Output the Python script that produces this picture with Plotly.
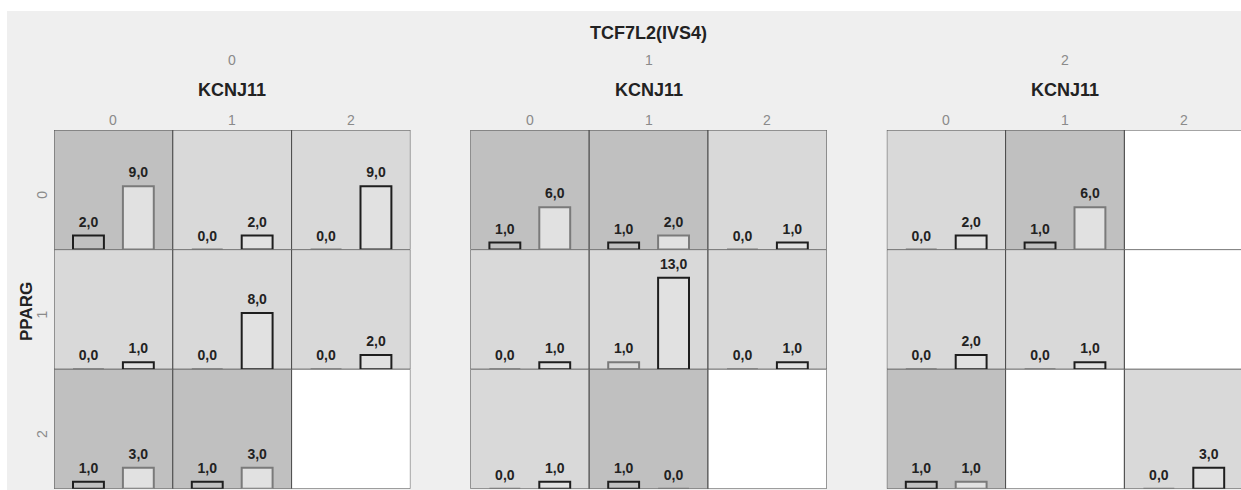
import plotly.graph_objects as go

# MDR-style interaction plot: TCF7L2(IVS4) x KCNJ11 x PPARG genotypes
tcf_levels = ["0", "1", "2"]      # panels
kcnj_levels = ["0", "1", "2"]     # columns inside each panel
pparg_levels = ["0", "1", "2"]    # rows

# counts per TCF7L2 level, rows = PPARG, cols = KCNJ11; None = no subjects
cases = [
    [[2, 0, 0], [0, 0, 0], [1, 1, None]],
    [[1, 1, 0], [0, 1, 0], [0, 1, None]],
    [[0, 1, None], [0, 0, None], [1, None, 0]],
]
controls = [
    [[9, 2, 9], [1, 8, 2], [3, 3, None]],
    [[6, 2, 1], [1, 13, 1], [1, 0, None]],
    [[2, 6, None], [2, 1, None], [1, None, 3]],
]

# overall case/control ratio decides high-risk (dark) vs low-risk (light) cells
tot_cases = sum(v for pan in cases for row in pan for v in row if v is not None)
tot_ctrl = sum(v for pan in controls for row in pan for v in row if v is not None)
threshold = tot_cases / tot_ctrl

W, H = 1241, 490
LEFT, TOP = 54, 130
CELL_W, CELL_H = 118.8, 119.6
PANEL_GAP = 60
UNIT_PX = 7.04
Y_MAX = CELL_H / UNIT_PX

BG = "#efefef"
DARK = "#c0c0c0"
LIGHT = "#d9d9d9"
EMPTY = "#ffffff"
BORDER = "#4a4a4a"
STRONG = "#1e1e1e"
WEAK = "#7a7a7a"
FONT = "Liberation Sans, Arial, sans-serif"


def fmt(v):
    return f"{v:.1f}".replace(".", ",")


fig = go.Figure()
shapes = [dict(type="rect", xref="paper", yref="paper", x0=7 / W, x1=1,
               y0=0, y1=1 - 11 / H, fillcolor=BG, line=dict(width=0),
               layer="below")]
annotations = []
layout_axes = {}

panel_left = [LEFT + p * (3 * CELL_W + PANEL_GAP) for p in range(3)]

for p in range(3):
    x0 = panel_left[p]
    x1 = min(x0 + 3 * CELL_W, W)
    for r in range(3):
        k = r * 3 + p + 1
        sfx = "" if k == 1 else str(k)
        y_top = TOP + r * CELL_H
        y_bot = y_top + CELL_H
        layout_axes["xaxis" + sfx] = dict(
            domain=[x0 / W, x1 / W], range=[0, (x1 - x0) / CELL_W],
            anchor="y" + sfx, visible=False, fixedrange=True)
        layout_axes["yaxis" + sfx] = dict(
            domain=[1 - y_bot / H, 1 - y_top / H], range=[0, Y_MAX],
            anchor="x" + sfx, visible=False, fixedrange=True)

        bx, by, bt, bline, bfill = [], [], [], [], []
        for c in range(3):
            a = cases[p][r][c]
            b = controls[p][r][c]
            if a is None:
                fill = EMPTY
            else:
                high = (b == 0 and a > 0) or (b > 0 and a / b > threshold)
                fill = DARK if high else LIGHT
            shapes.append(dict(type="rect", xref="x" + sfx, yref="y" + sfx,
                               x0=c, x1=c + 1, y0=0, y1=Y_MAX,
                               fillcolor=fill, line=dict(color=BORDER, width=1),
                               layer="below"))
            if a is None:
                continue
            for j, (v, off) in enumerate(((a, 0.29), (b, 0.71))):
                bx.append(c + off)
                by.append(v)
                bt.append(fmt(v))
                emph = (j == 0) == high
                bline.append(STRONG if emph else WEAK)
                bfill.append("rgba(0,0,0,0)" if j == 0 else "#e1e1e1")

        fig.add_trace(go.Bar(
            x=bx, y=by, width=0.26, xaxis="x" + sfx, yaxis="y" + sfx,
            marker=dict(color=bfill, line=dict(color=bline, width=2)),
            hoverinfo="skip", showlegend=False))
        fig.add_trace(go.Scatter(
            x=bx, y=by, text=bt, mode="markers+text", textposition="top center",
            marker=dict(size=7, color="rgba(0,0,0,0)"),
            textfont=dict(family=FONT, size=14, color="#222222", weight="bold"),
            xaxis="x" + sfx, yaxis="y" + sfx, cliponaxis=False,
            hoverinfo="skip", showlegend=False))

    # panel headers
    cx = (x0 + x0 + 3 * CELL_W) / 2
    annotations.append(dict(x=cx / W, y=1 - 60 / H, text=tcf_levels[p],
                            font=dict(family=FONT, size=14, color="#8a8a8a")))
    annotations.append(dict(x=cx / W, y=1 - 90 / H, text="<b>KCNJ11</b>",
                            font=dict(family=FONT, size=18, color="#222222")))
    for c in range(3):
        annotations.append(dict(x=(x0 + (c + 0.5) * CELL_W) / W, y=1 - 120 / H,
                                text=kcnj_levels[c],
                                font=dict(family=FONT, size=14, color="#8a8a8a")))

# row labels
for r in range(3):
    cy = TOP + (r + 0.5) * CELL_H + 5
    annotations.append(dict(x=42 / W, y=1 - cy / H, text=pparg_levels[r],
                            textangle=-90,
                            font=dict(family=FONT, size=14, color="#8a8a8a")))
annotations.append(dict(x=26 / W, y=1 - 312 / H, text="<b>PPARG</b>",
                        textangle=-90,
                        font=dict(family=FONT, size=17, color="#222222")))
annotations.append(dict(x=648.6 / W, y=1 - 33 / H, text="<b>TCF7L2(IVS4)</b>",
                        font=dict(family=FONT, size=18, color="#222222")))

for a in annotations:
    a.update(xref="paper", yref="paper", xanchor="center", yanchor="middle",
             showarrow=False)

fig.update_layout(
    width=W, height=H, margin=dict(l=0, r=0, t=0, b=0),
    paper_bgcolor="#ffffff", plot_bgcolor="rgba(0,0,0,0)",
    barmode="overlay", shapes=shapes, annotations=annotations,
    **layout_axes)

fig.write_html("out.html")
